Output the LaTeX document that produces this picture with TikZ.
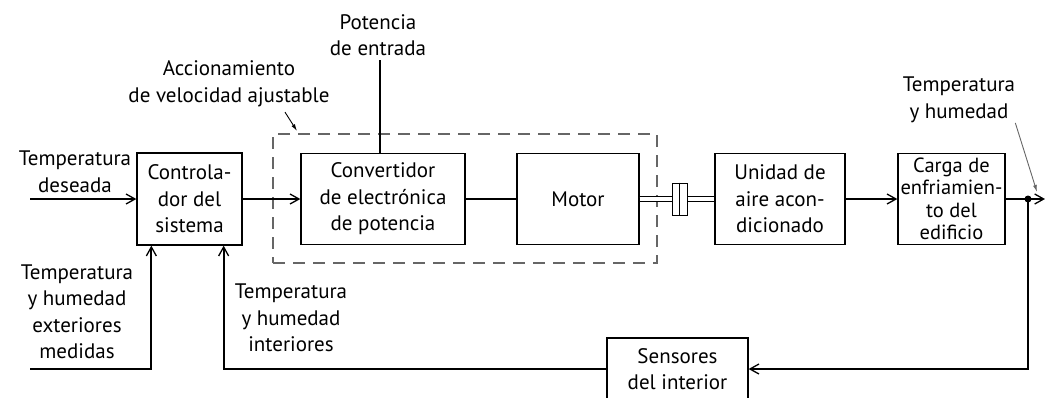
\documentclass[tikz,border=0pt]{standalone}
\usepackage{fontspec}
\setmainfont{PT Sans}
\usetikzlibrary{arrows.meta,positioning,calc}
\tikzset{
  blk/.style={draw,line width=1.3pt,align=center,inner sep=0pt},
  lbl/.style={align=center,inner sep=0pt},
  sig/.style={line width=1.9pt},
  arr/.style={sig,-{Straight Barb[length=9pt,width=10pt,line width=1.3pt]}},
  ptr/.style={line width=0.9pt,-{Latex[length=7pt,width=4pt]}},
  shaft/.style={double,double distance=3.6pt,line width=1.1pt},
}
\begin{document}
\begin{tikzpicture}[x=1pt,y=-1pt,font=\fontsize{21}{26.5}\selectfont]
\useasboundingbox (0,0) rectangle (1045,397);
\node[blk,minimum width=105,minimum height=92] (ctrl) at (189.5,199) {Controla-\\dor del\\sistema};
\node[blk,minimum width=164,minimum height=91] (conv) at (383,199) {Convertidor\\de electrónica\\de potencia};
\node[blk,minimum width=122,minimum height=91] (motor) at (578,199) {Motor};
\node[blk,line width=1pt,minimum width=15,minimum height=32] (cpl) at (679.5,199) {};
\node[blk,minimum width=130,minimum height=91] (unid) at (780,199) {Unidad de\\aire acon-\\dicionado};
\node[blk,minimum width=107,minimum height=91,font=\fontsize{20.5}{22.5}\selectfont] (carga) at (951.5,199) {Carga de\\enfriamien-\\to del\\edificio};
\node[blk,minimum width=141,minimum height=62] (sens) at (677.5,369) {Sensores\\del interior};
\node[draw=black!60,line width=1.2pt,dash pattern=on 12pt off 8pt,minimum width=384,minimum height=129] (adj) at (465,198.5) {};
\node[lbl] (tdes) at (75,172) {Temperatura\\deseada};
\node[lbl] (pot) at (378,35) {Potencia\\de entrada};
\node[lbl] (acc) at (229,84) {Accionamiento\\de velocidad ajustable};
\node[lbl] (thum) at (959,100) {Temperatura\\y humedad};
\node[lbl] (text) at (77,312) {Temperatura\\y humedad\\exteriores\\medidas};
\node[lbl] (tint) at (291,318) {Temperatura\\y humedad\\interiores};
\coordinate (in1) at (30,199);
\coordinate (in2) at (30,369);
\coordinate (out) at (1045,199);
\coordinate (tap) at (1028,199);
\coordinate (adjp) at (297,131);
\coordinate (thp) at (1037,192);
\draw[arr] (in1) -- (ctrl.west);
\draw[arr] (ctrl.east) -- (conv.west);
\draw[sig] (conv.east) -- (motor.west);
\draw[shaft] (motor.east) -- (cpl.west);
\draw[shaft] (cpl.east) -- (unid.west);
\draw[line width=1pt] (cpl.north) -- (cpl.south);
\draw[arr] (unid.east) -- (carga.west);
\draw[arr] (carga.east) -- (out);
\fill (tap) circle (3.5);
\draw[arr] (tap) |- (sens.east);
\draw[arr] (sens.west) -| ($(ctrl.south east)+(-19,0)$);
\draw[arr] (in2) -| ($(ctrl.south west)+(15,0)$);
\draw[sig] ($(pot.south)+(2,4)$) -- ($(pot.south |- conv.north)+(2,0)$);
\draw[ptr] ($(acc.south)+(56,5)$) -- (adjp);
\draw[ptr,black!60] (thum.south east) -- (thp);
\end{tikzpicture}
\end{document}
